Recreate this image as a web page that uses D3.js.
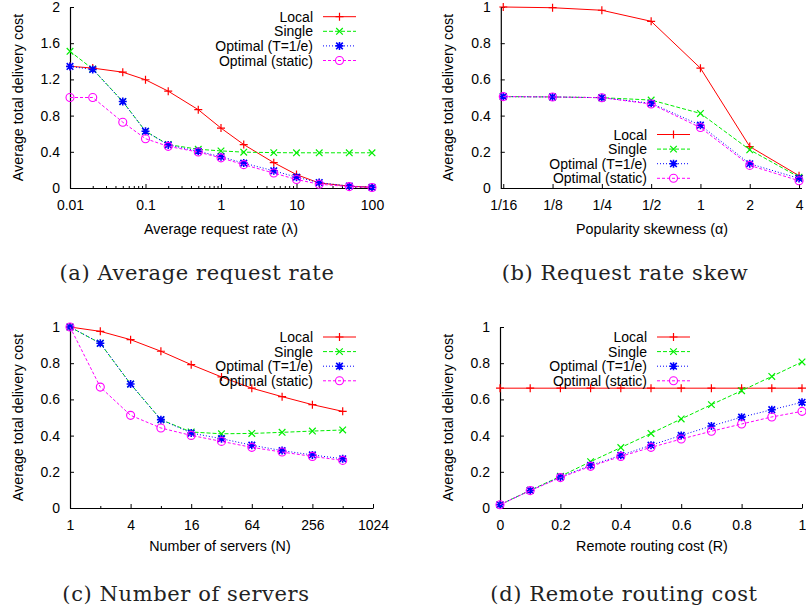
<!DOCTYPE html>
<html><head><meta charset="utf-8">
<script src="https://cdn.jsdelivr.net/npm/d3@7"></script>
<style>body{margin:0;background:#fff}svg{display:block}</style>
</head><body>
<svg id="c" width="806" height="615"></svg>
<script>
// ---------------- data ----------------
const seriesNames = ["Local", "Single", "Optimal (T=1/e)", "Optimal (static)"];
const yLabelText = "Average total delivery cost";

// (a) average request rate
const rateX = [0.01, 0.02, 0.05, 0.1, 0.2, 0.5, 1, 2, 5, 10, 20, 50, 100];
const rateLocal  = [1.345, 1.325, 1.28, 1.196, 1.07, 0.865, 0.662, 0.48, 0.28, 0.148, 0.055, 0.02, 0.008];
const rateSingle = [1.51, 1.315, 0.955, 0.627, 0.48, 0.428, 0.41, 0.396, 0.391, 0.389, 0.389, 0.389, 0.389];
const rateOptT   = [1.343, 1.31, 0.955, 0.627, 0.476, 0.406, 0.345, 0.275, 0.19, 0.12, 0.06, 0.022, 0.008];
const rateStatic = [1.0, 1.0, 0.727, 0.545, 0.46, 0.397, 0.333, 0.258, 0.165, 0.094, 0.042, 0.015, 0.006];
const rateTicks = [0.01, 0.1, 1, 10, 100];
const rateYTicks = [0, 0.4, 0.8, 1.2, 1.6, 2];

// (b) request rate skew
const skewX = [1/16, 1/8, 1/4, 1/2, 1, 2, 4];
const skewTickLabels = ["1/16", "1/8", "1/4", "1/2", "1", "2", "4"];
const skewLocal  = [1.0, 0.996, 0.982, 0.921, 0.662, 0.229, 0.068];
const skewSingle = [0.505, 0.503, 0.499, 0.486, 0.412, 0.211, 0.06];
const skewOptT   = [0.505, 0.503, 0.499, 0.468, 0.347, 0.134, 0.053];
const skewStatic = [0.505, 0.503, 0.499, 0.464, 0.334, 0.125, 0.04];

// (c) number of servers
const serversX = [1, 2, 4, 8, 16, 32, 64, 128, 256, 512];
const serversLocal  = [1.0, 0.976, 0.93, 0.866, 0.792, 0.724, 0.662, 0.615, 0.571, 0.534];
const serversSingle = [1.0, 0.91, 0.685, 0.488, 0.42, 0.41, 0.412, 0.418, 0.425, 0.431];
const serversOptT   = [1.0, 0.91, 0.685, 0.488, 0.414, 0.383, 0.347, 0.317, 0.293, 0.272];
const serversStatic = [1.0, 0.668, 0.512, 0.442, 0.401, 0.368, 0.335, 0.309, 0.285, 0.263];
const serversTicks = [1, 4, 16, 64, 256, 1024];
const serversMinor = [2, 8, 32, 128, 512];

// (d) remote routing cost
const routingX = [0, 0.1, 0.2, 0.3, 0.4, 0.5, 0.6, 0.7, 0.8, 0.9, 1];
const routingLocal  = [0.662, 0.662, 0.662, 0.662, 0.662, 0.662, 0.662, 0.662, 0.662, 0.662, 0.662];
const routingSingle = [0.018, 0.098, 0.175, 0.256, 0.334, 0.412, 0.492, 0.571, 0.648, 0.727, 0.807];
const routingOptT   = [0.018, 0.097, 0.171, 0.236, 0.291, 0.347, 0.401, 0.453, 0.502, 0.543, 0.584];
const routingStatic = [0.018, 0.096, 0.168, 0.23, 0.285, 0.335, 0.381, 0.424, 0.464, 0.503, 0.534];
const routingTicks = [0, 0.2, 0.4, 0.6, 0.8, 1];

const unitYTicks = [0, 0.2, 0.4, 0.6, 0.8, 1];

// ---------------- drawing ----------------
const svg = d3.select("#c");
const SANS = "'Liberation Sans', Arial, Helvetica, sans-serif";
const SERIF = "'DejaVu Serif', serif";
const styles = [
  {color: "#ff0000", dash: null,  marker: "plus"},
  {color: "#00ee00", dash: "4,2", marker: "cross"},
  {color: "#0000ff", dash: "1,2", marker: "star"},
  {color: "#ff00ff", dash: "3,2", marker: "circle"}
];
function markerPath(type) {
  const s = 4, c = 3.3;
  const plus = `M${-s},0H${s}M0,${-s}V${s}`;
  const cross = `M${-c},${-c}L${c},${c}M${-c},${c}L${c},${-c}`;
  if (type === "plus") return plus;
  if (type === "cross") return cross;
  if (type === "star") return plus + cross;
  return null;
}
function drawMarker(g, type, color, cx, cy) {
  if (type === "circle") {
    g.append("circle").attr("cx", cx).attr("cy", cy).attr("r", 4)
      .attr("fill", "none").attr("stroke", color).attr("stroke-width", 1.1);
  } else {
    g.append("path").attr("transform", `translate(${cx},${cy})`)
      .attr("d", markerPath(type)).attr("fill", "none")
      .attr("stroke", color).attr("stroke-width", type === "star" ? 1.6 : 1.2);
  }
}

function styleAxis(ax) {
  ax.attr("font-family", SANS).attr("font-size", 14);
  ax.selectAll("text").attr("fill", "#000");
  ax.selectAll("line").attr("stroke", "#000");
  ax.selectAll(".domain").attr("stroke", "#000").attr("stroke-width", 1.2);
}

function drawPanel(p) {
  const g = svg.append("g");
  const x = p.x, y = p.y;
  const [x0, x1] = x.range();
  const [yb, yt] = y.range();

  // minor ticks
  if (p.xMinor) {
    g.append("g").attr("transform", `translate(0,${yb})`)
      .call(d3.axisBottom(x).tickValues(p.xMinor).tickSize(-2).tickSizeOuter(0).tickFormat(""))
      .call(a => { a.select(".domain").remove(); a.selectAll("line").attr("stroke", "#000"); });
  }
  // x axis
  const xa = g.append("g").attr("transform", `translate(0,${yb})`)
    .call(d3.axisBottom(x).tickValues(p.xTicks).tickSize(-4).tickSizeOuter(0)
      .tickPadding(12).tickFormat(p.xFmt));
  styleAxis(xa);
  // y axis
  const ya = g.append("g").attr("transform", `translate(${x0},0)`)
    .call(d3.axisLeft(y).tickValues(p.yTicks).tickSize(-4).tickSizeOuter(0)
      .tickPadding(10).tickFormat(d3.format("~g")));
  styleAxis(ya);

  // axis titles
  g.append("text").attr("x", p.xLabelX).attr("y", yb + p.xLabelDy)
    .attr("text-anchor", "middle").attr("font-family", SANS).attr("font-size", 14.3)
    .text(p.xLabel);
  g.append("text").attr("transform", `translate(${p.yLabelX},${(yb + yt) / 2}) rotate(-90)`)
    .attr("text-anchor", "middle").attr("dy", "0.35em")
    .attr("font-family", SANS).attr("font-size", 14.3).text(yLabelText);

  // caption
  g.append("text").attr("x", p.captionX).attr("y", p.captionY)
    .attr("text-anchor", "middle").attr("font-family", SERIF).attr("font-size", 21)
    .attr("letter-spacing", 0.6)
    .attr("fill", "#222").text(p.caption);

  // series
  p.series.forEach((vals, i) => {
    const st = styles[i];
    const pts = p.xData.map((xv, j) => [x(xv), y(vals[j])]);
    g.append("path").attr("d", d3.line()(pts)).attr("fill", "none")
      .attr("stroke", st.color).attr("stroke-width", 1)
      .attr("stroke-dasharray", st.dash);
    pts.forEach(([cx, cy]) => drawMarker(g, st.marker, st.color, cx, cy));
  });

  // legend
  seriesNames.forEach((name, i) => {
    const st = styles[i];
    const cy = p.legendY + i * 14.6;
    g.append("text").attr("x", p.legendX).attr("y", cy + 5)
      .attr("text-anchor", "end").attr("font-family", SANS).attr("font-size", 14)
      .text(name);
    g.append("line").attr("x1", p.legendX + 10).attr("x2", p.legendX + 43)
      .attr("y1", cy).attr("y2", cy).attr("stroke", st.color).attr("stroke-width", 1)
      .attr("stroke-dasharray", st.dash);
    drawMarker(g, st.marker, st.color, p.legendX + 26.5, cy);
  });
}

// panel (a)
drawPanel({
  x: d3.scaleLog().domain([0.01, 100]).range([70, 372]),
  y: d3.scaleLinear().domain([0, 2]).range([188, 7]),
  xTicks: rateTicks, xFmt: d3.format("~g"),
  xMinor: d3.range(-2, 2).flatMap(e => d3.range(2, 10).map(m => m * Math.pow(10, e))),
  yTicks: rateYTicks,
  xData: rateX, series: [rateLocal, rateSingle, rateOptT, rateStatic],
  xLabel: "Average request rate (λ)", xLabelX: 221, xLabelDy: 46, yLabelX: 18,
  caption: "(a) Average request rate", captionX: 197, captionY: 280,
  legendX: 313, legendY: 16.7
});

// panel (b)
drawPanel({
  x: d3.scaleLog().base(2).domain([Math.pow(2, -4.05), Math.pow(2, 2.05)]).range([500.8, 801.5]),
  y: d3.scaleLinear().domain([0, 1]).range([188, 7]),
  xTicks: skewX, xFmt: (d, i) => skewTickLabels[i],
  yTicks: unitYTicks,
  xData: skewX, series: [skewLocal, skewSingle, skewOptT, skewStatic],
  xLabel: "Popularity skewness (α)", xLabelX: 652, xLabelDy: 46, yLabelX: 448,
  caption: "(b) Request rate skew", captionX: 625, captionY: 280,
  legendX: 647, legendY: 134.5
});

// panel (c)
drawPanel({
  x: d3.scaleLog().base(2).domain([1, 1024]).range([70, 373]),
  y: d3.scaleLinear().domain([0, 1]).range([508, 327]),
  xTicks: serversTicks, xFmt: d3.format("~g"), xMinor: serversMinor,
  yTicks: unitYTicks,
  xData: serversX, series: [serversLocal, serversSingle, serversOptT, serversStatic],
  xLabel: "Number of servers (N)", xLabelX: 220, xLabelDy: 43, yLabelX: 18,
  caption: "(c) Number of servers", captionX: 186, captionY: 601,
  legendX: 313, legendY: 337
});

// panel (d)
drawPanel({
  x: d3.scaleLinear().domain([0, 1]).range([500, 802]),
  y: d3.scaleLinear().domain([0, 1]).range([508, 327]),
  xTicks: routingTicks, xFmt: d3.format("~g"),
  yTicks: unitYTicks,
  xData: routingX, series: [routingLocal, routingSingle, routingOptT, routingStatic],
  xLabel: "Remote routing cost (R)", xLabelX: 652, xLabelDy: 43, yLabelX: 448,
  caption: "(d) Remote routing cost", captionX: 624, captionY: 601,
  legendX: 647, legendY: 337
});
</script>
</body></html>
